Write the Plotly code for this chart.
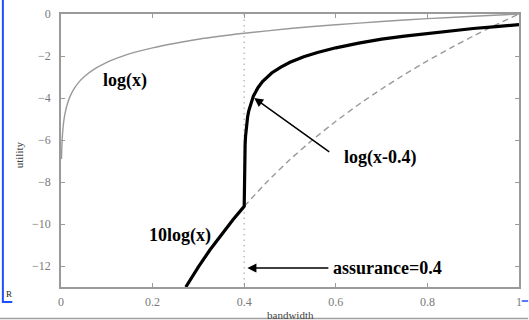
import plotly.graph_objects as go

# log(x) curve (gray thin)
logx_x = [0.001, 0.002, 0.003, 0.005, 0.0075, 0.01, 0.015, 0.02, 0.03, 0.04, 0.05, 0.07,
          0.1, 0.13, 0.16, 0.2, 0.25, 0.3, 0.4, 0.5, 0.6, 0.7, 0.8, 0.9, 1.0]
logx_y = [-6.91, -6.21, -5.81, -5.30, -4.89, -4.61, -4.20, -3.91, -3.51, -3.22, -3.00, -2.66,
          -2.30, -2.04, -1.83, -1.61, -1.39, -1.20, -0.92, -0.69, -0.51, -0.36, -0.22, -0.11, 0.0]

# 10log(x) continuation beyond assurance (gray dashed)
tenlog_x = [0.4, 0.45, 0.5, 0.55, 0.6, 0.65, 0.7, 0.75, 0.8, 0.85, 0.9, 0.95, 1.0]
tenlog_y = [-9.16, -7.99, -6.93, -5.98, -5.11, -4.31, -3.57, -2.88, -2.23, -1.63, -1.05, -0.51, 0.0]

# combined utility (thick black): 10log(x) below 0.4, log(x-0.4) above
util_x = [0.2725, 0.3, 0.325, 0.35, 0.375, 0.4,
          0.4, 0.4003, 0.4005, 0.4008, 0.401, 0.4015, 0.402, 0.403, 0.405, 0.4075, 0.41,
          0.415, 0.42, 0.43, 0.44, 0.46, 0.48, 0.5, 0.53, 0.56, 0.6, 0.65, 0.7, 0.75,
          0.8, 0.85, 0.9, 0.95, 1.0]
util_y = [-13.0, -12.04, -11.24, -10.50, -9.81, -9.16,
          -9.16, -8.11, -7.60, -7.13, -6.91, -6.50, -6.21, -5.81, -5.30, -4.89, -4.61,
          -4.20, -3.91, -3.51, -3.22, -2.81, -2.53, -2.30, -2.04, -1.83, -1.61, -1.39, -1.20, -1.05,
          -0.92, -0.80, -0.69, -0.60, -0.51]

assurance = 0.4
x_ticks = [0, 0.2, 0.4, 0.6, 0.8, 1]
y_ticks = [0, -2, -4, -6, -8, -10, -12]

SERIF = "Liberation Serif"
AX = "#9a9a9a"

fig = go.Figure()
fig.add_trace(go.Scatter(x=[assurance, assurance], y=[0, -13], mode="lines",
                         line=dict(color="#bdbdbd", width=1.5, dash="1.5px,4px"), hoverinfo="skip"))
fig.add_trace(go.Scatter(x=logx_x, y=logx_y, mode="lines",
                         line=dict(color="#999999", width=1.4, shape="spline", smoothing=0.5)))
fig.add_trace(go.Scatter(x=tenlog_x, y=tenlog_y, mode="lines",
                         line=dict(color="#999999", width=1.4, dash="6px,4px", shape="spline", smoothing=0.5)))
fig.add_trace(go.Scatter(x=util_x, y=util_y, mode="lines",
                         line=dict(color="black", width=3.2)))

axis_common = dict(showgrid=False, zeroline=False, showline=True, linecolor=AX, linewidth=1.5,
                   mirror="ticks", ticks="inside", ticklen=4, tickcolor=AX, tickwidth=1.2,
                   tickfont=dict(family=SERIF, size=12, color="#7a7a7a"))

fig.update_xaxes(range=[0, 1], tickvals=x_ticks, ticktext=[("%g" % v) for v in x_ticks],
                 ticklabelstandoff=3, **axis_common)
fig.update_yaxes(range=[-13, 0], tickvals=y_ticks, ticktext=[("%g" % v).replace("-", "\u2212") for v in y_ticks],
                 ticklabelstandoff=6, **axis_common)

def lbl(text, x, y, size=18):
    return dict(text="<b>%s</b>" % text, x=x, y=y, xref="x", yref="y", showarrow=False,
                xanchor="center", yanchor="middle",
                font=dict(family=SERIF, size=size, color="black"))

def arrow(x0, y0, x1, y1):
    return dict(text="", x=x1, y=y1, ax=x0, ay=y0, xref="x", yref="y", axref="x", ayref="y",
                showarrow=True, arrowhead=2, arrowsize=1.2, arrowwidth=1.5, arrowcolor="black", standoff=0)

anns = [
    lbl("log(x)", 0.139, -3.19),
    lbl("10log(x)", 0.26, -10.57),
    lbl("log(x-0.4)", 0.696, -6.85),
    lbl("assurance=0.4", 0.712, -12.1),
    arrow(0.589, -6.62, 0.4217, -4.0),
    arrow(0.587, -12.1, 0.407, -12.1),
    dict(text="utility", x=-0.0911, y=0.4835, xref="paper", yref="paper", showarrow=False,
         xanchor="center", yanchor="middle",
         textangle=-90, font=dict(family=SERIF, size=11, color="#444")),
    dict(text="bandwidth", x=0.501, y=-0.1026, xref="paper", yref="paper", showarrow=False,
         xanchor="center", yanchor="middle",
         font=dict(family=SERIF, size=11, color="#444")),
    dict(text="R", x=-0.1128, y=-0.0256, xref="paper", yref="paper", showarrow=False,
         xanchor="center", yanchor="middle",
         font=dict(family=SERIF, size=9, color="#222")),
]

BLUE = "#1f4fff"
shapes = [
    dict(type="line", xref="paper", yref="paper", x0=-0.1269, x1=-0.1269, y0=1.06, y1=-0.0549,
         line=dict(color=BLUE, width=2)),
    dict(type="line", xref="paper", yref="paper", x0=-0.1291, x1=-0.1063, y0=-0.0549, y1=-0.0549,
         line=dict(color=BLUE, width=2)),
    dict(type="line", xref="paper", yref="paper", x0=1.006, x1=1.02, y0=-0.0513, y1=-0.0513,
         line=dict(color=BLUE, width=1.5)),
    dict(type="line", xref="paper", yref="paper", x0=-0.14, x1=1.02, y0=-0.1154, y1=-0.1154,
         line=dict(color="#a0a0a0", width=1.5)),
]

fig.update_layout(width=529, height=320, margin=dict(l=61, r=7, t=14, b=33),
                  plot_bgcolor="white", paper_bgcolor="white", showlegend=False,
                  annotations=anns, shapes=shapes)

fig.write_html("out.html")
